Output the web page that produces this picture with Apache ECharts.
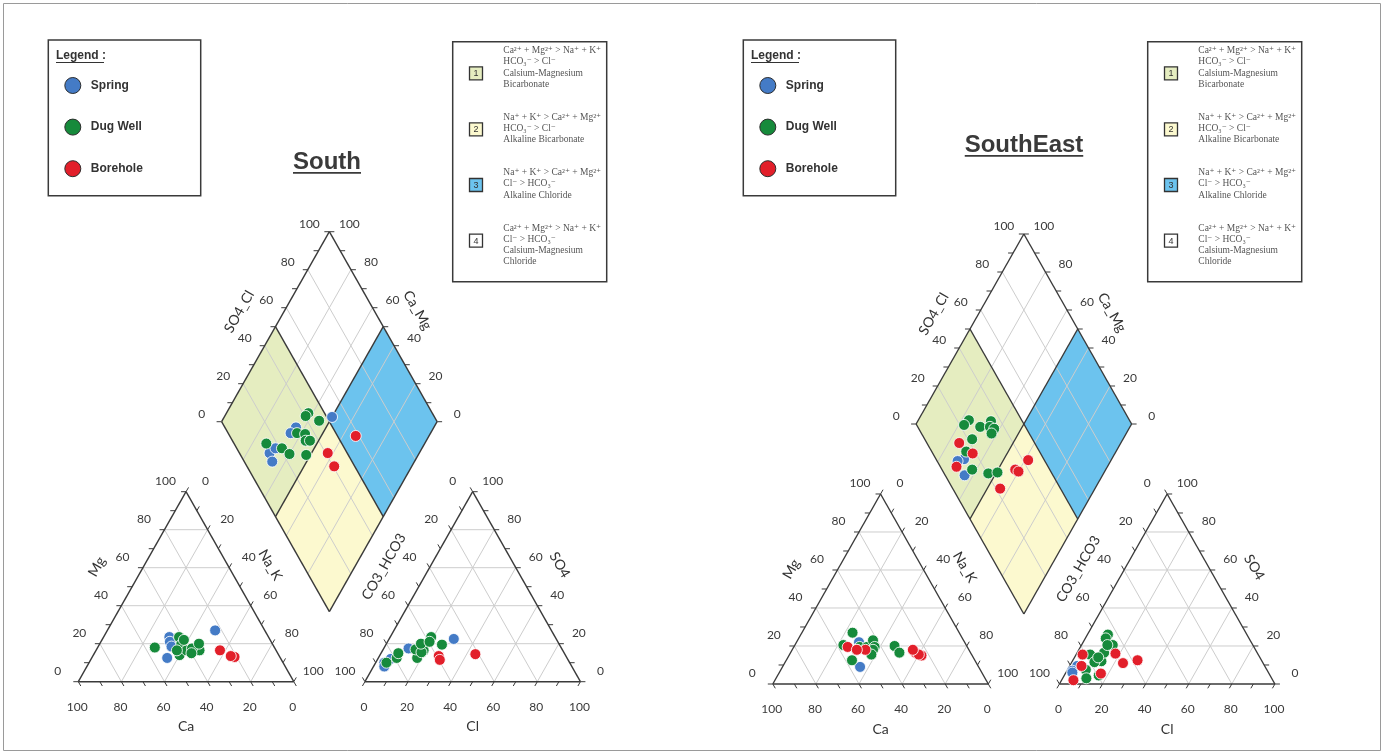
<!DOCTYPE html>
<html><head><meta charset="utf-8">
<script src="https://cdn.jsdelivr.net/npm/echarts@6/dist/echarts.min.js"></script>
<style>html,body{margin:0;padding:0;background:#fff}#c{width:1384px;height:755px}</style>
</head><body><div id="c"></div><script>
// ---------------- DATA ----------------
const SERIES_NAMES = ['Spring', 'Dug Well', 'Borehole'];
const SERIES_COLORS = ['#447bc6', '#168a3b', '#e21f2a'];
const PANEL_TITLES = ['South', 'SouthEast'];
const TICK_VALUES = [0, 20, 40, 60, 80, 100];
const AXIS_TITLES = { ca: 'Ca', mg: 'Mg', na: 'Na_K', cl: 'Cl', so4: 'SO4', hco3: 'CO3_HCO3', so4cl: 'SO4_Cl', camg: 'Ca_Mg' };
const LEGEND_HEADING = 'Legend :';
const CLASS_NUMBERS = ['1', '2', '3', '4'];
const CLASS_TEXT = [
  ['Ca\u00B2\u207A + Mg\u00B2\u207A > Na\u207A + K\u207A', 'HCO\u2083\u207B > Cl\u207B', 'Calsium-Magnesium', 'Bicarbonate'],
  ['Na\u207A + K\u207A > Ca\u00B2\u207A + Mg\u00B2\u207A', 'HCO\u2083\u207B > Cl\u207B', 'Alkaline Bicarbonate'],
  ['Na\u207A + K\u207A > Ca\u00B2\u207A + Mg\u00B2\u207A', 'Cl\u207B > HCO\u2083\u207B', 'Alkaline Chloride'],
  ['Ca\u00B2\u207A + Mg\u00B2\u207A > Na\u207A + K\u207A', 'Cl\u207B > HCO\u2083\u207B', 'Calsium-Magnesium', 'Chloride']
];

// cations: [Ca, Mg, Na+K] (% meq)   anions: [CO3+HCO3, SO4, Cl] (% meq)
const southSpringCat = [[23,27,50],[46,18,36],[52.5,12.5,35],[46,23.5,30.5],[47,21,32],[47.5,18.5,34]];
const southSpringAn  = [[47.5,22.5,30],[67,17.5,15.5],[71,17.5,11.5],[86,10,4],[82,12,6],[87,8,5]];
const southDugCat = [[55.5,18,26.5],[41.5,23.5,35],[46,14,40],[35.5,16.5,48],[42.5,19.5,38],[41.5,16.5,42],[38.5,17.5,44],[34,20,46],[40,22,38],[46,16.5,37.5],[40,15,45]];
const southDugAn  = [[85,10,5],[79,12.5,8.5],[77,15,8],[69.5,12.5,18],[68,17,15],[64.5,16.5,19],[66,15.5,18.5],[64,20,16],[57.5,23.5,19],[59.5,21,19.5],[54.5,19.5,26]];
const southBoreCat = [[21,13,66],[26,16.5,57.5],[22.5,13.5,64]];
const southBoreAn  = [[41.5,14.5,44],[59,13.5,27.5],[59.5,11.5,29]];

const seSpringCat = [[49,19.5,31.5],[49,22,29],[55,9,36]];
const seSpringAn  = [[87,9.5,3.5],[90.5,7,2.5],[91,6,3]];
const seDugCat = [[49.5,27,23.5],[57,20.5,22.5],[50,19.5,30.5],[46.5,19.5,34],[42,23,35],[43,19.5,37.5],[44.5,18,37.5],[52,18,30],[57,12.5,30.5],[46.5,15.5,38],[33.5,20,46.5],[33,16.5,50.5]];
const seDugAn  = [[74.5,12,13.5],[78,15.5,6.5],[71,16.5,12.5],[64.5,26,9.5],[66.5,24,9.5],[65,20.5,14.5],[67.5,20.5,12],[78,11.5,10.5],[84,7.5,8.5],[86,3,11],[79.5,4.5,16],[75,14,11]];
const seBoreCat = [[55.5,19.5,25],[48,18,34],[52,18,30],[23.5,15,61.5],[25.5,16.5,58],[24.5,15.5,60],[26,18,56]];
const seBoreAn  = [[85,9.5,5.5],[81.5,15.5,3],[92.5,2,5.5],[57.5,12.5,30],[66,16,18],[65,11,24],[78,5.5,16.5]];

// ---------------- GEOMETRY (Piper layout in diagram units, side = 100) ----------------
const GAP = 33, Y0 = 31.9, H = 86.6;
function cat(c) { return [c[2] + c[1] / 2, c[1] * H / 100]; }
function an(a) { return [100 + GAP + a[2] + a[1] / 2, a[1] * H / 100]; }
function dia(caMg, so4Cl) { return [100 + GAP / 2 + (so4Cl - caMg) / 2, Y0 + H * (so4Cl + caMg) / 100]; }

const SX = 2.155, SY = 2.194, XMIN = -30, XMAX = 270, YMIN = -25, YMAX = 225;
const PANELS = [
  { ox: 78.3, oy: 681.7, titleX: 327, titleY: 162, boxShift: 0,
    sets: [[southSpringCat, southSpringAn], [southDugCat, southDugAn], [southBoreCat, southBoreAn]] },
  { ox: 772.8, oy: 684, titleX: 1024, titleY: 145, boxShift: 695,
    sets: [[seSpringCat, seSpringAn], [seDugCat, seDugAn], [seBoreCat, seBoreAn]] }
];

const FONT_AX = 'Lato, "Open Sans", sans-serif';
const FONT_B = '"Liberation Sans", Arial, sans-serif';
const FONT_SERIF = '"Liberation Serif", "DejaVu Serif", serif';
const DARK = '#3a3a3a', GRIDC = '#cdcdcd';
const FILL1 = '#e5edc0', FILL2 = '#fcf9cf', FILL3 = '#6cc3ee';

function txt(x, y, s, o) {
  o = o || {};
  return { type: 'text', x: x, y: y, rotation: o.rot || 0, silent: true,
    style: { text: s, fill: o.color || '#3a3a3a', fontSize: o.size || 12, fontFamily: o.family || FONT_AX,
      fontWeight: o.weight || 'normal', align: o.align || 'center', verticalAlign: 'middle',
      textAlign: o.align || 'center', textVerticalAlign: 'middle' } };
}

function buildFrame(api) {
  const ch = [];
  const p = uv => api.coord(uv);
  const seg = (A, B, stroke, w) => ch.push({ type: 'line', silent: true, shape: { x1: A[0], y1: A[1], x2: B[0], y2: B[1] }, style: { stroke: stroke, lineWidth: w } });
  const line = (a, b, stroke, w) => seg(p(a), p(b), stroke, w);
  const poly = (pts, fill) => ch.push({ type: 'polygon', silent: true, shape: { points: pts.map(p) }, style: { fill: fill, stroke: null } });
  const tick = (uv, dx, dy) => { const A = p(uv); seg(A, [A[0] + dx, A[1] + dy], DARK, 1); };
  const lab = (uv, dx, dy, s, o) => { const A = p(uv); ch.push(txt(A[0] + dx, A[1] + dy, s, o)); };

  // quadrant fills of the diamond
  poly([dia(100, 0), dia(100, 50), dia(50, 50), dia(50, 0)], FILL1);
  poly([dia(50, 0), dia(50, 50), dia(0, 50), dia(0, 0)], FILL2);
  poly([dia(50, 50), dia(50, 100), dia(0, 100), dia(0, 50)], FILL3);

  // grid lines
  [20, 40, 60, 80].forEach(k => {
    line(cat([100 - k, k, 0]), cat([0, k, 100 - k]), GRIDC, 1);
    line(cat([k, 100 - k, 0]), cat([k, 0, 100 - k]), GRIDC, 1);
    line(cat([100 - k, 0, k]), cat([0, 100 - k, k]), GRIDC, 1);
    line(an([k, 100 - k, 0]), an([k, 0, 100 - k]), GRIDC, 1);
    line(an([100 - k, k, 0]), an([0, k, 100 - k]), GRIDC, 1);
    line(an([100 - k, 0, k]), an([0, 100 - k, k]), GRIDC, 1);
    line(dia(k, 0), dia(k, 100), GRIDC, 1);
    line(dia(0, k), dia(100, k), GRIDC, 1);
  });

  // outlines
  const W = 1.4;
  line(cat([100, 0, 0]), cat([0, 0, 100]), DARK, W);
  line(cat([0, 0, 100]), cat([0, 100, 0]), DARK, W);
  line(cat([0, 100, 0]), cat([100, 0, 0]), DARK, W);
  line(an([100, 0, 0]), an([0, 0, 100]), DARK, W);
  line(an([0, 0, 100]), an([0, 100, 0]), DARK, W);
  line(an([0, 100, 0]), an([100, 0, 0]), DARK, W);
  line(dia(0, 0), dia(100, 0), DARK, W);
  line(dia(100, 0), dia(100, 100), DARK, W);
  line(dia(100, 100), dia(0, 100), DARK, W);
  line(dia(0, 100), dia(0, 0), DARK, W);
  line(dia(50, 0), dia(50, 100), DARK, W);
  line(dia(0, 50), dia(100, 50), DARK, W);

  // ticks every 10
  for (let t = 0; t <= 100; t += 10) {
    tick(cat([t, 0, 100 - t]), 2.5, 4.3);
    tick(cat([100 - t, t, 0]), -5, 0);
    tick(cat([0, 100 - t, t]), 2.5, -4.3);
    tick(an([100 - t, 0, t]), -2.5, 4.3);
    tick(an([t, 100 - t, 0]), -2.5, -4.3);
    tick(an([0, t, 100 - t]), 5, 0);
    tick(dia(100, t), -5, 0);
    tick(dia(t, 100), 5, 0);
  }

  // tick labels
  TICK_VALUES.forEach(t => {
    const s = String(t);
    lab(cat([t, 0, 100 - t]), -1, 25.5, s);
    lab(cat([100 - t, t, 0]), -20.5, -11, s);
    lab(cat([0, 100 - t, t]), 19.5, -11, s);
    lab(an([100 - t, 0, t]), -1, 25.5, s);
    lab(an([t, 100 - t, 0]), -20, -11, s);
    lab(an([0, t, 100 - t]), 20, -11, s);
    lab(dia(100, t), -20, -8, s);
    lab(dia(t, 100), 20, -8, s);
  });

  // axis titles
  const tO = { size: 14, color: '#333' };
  lab(cat([50, 0, 50]), 0, 45, AXIS_TITLES.ca, tO);
  lab(cat([40, 60, 0]), -46, -1, AXIS_TITLES.mg, Object.assign({ rot: Math.PI / 3 }, tO));
  lab(cat([0, 60, 40]), 41, -2.7, AXIS_TITLES.na, Object.assign({ rot: -Math.PI / 3 }, tO));
  lab(an([50, 0, 50]), 0, 45, AXIS_TITLES.cl, tO);
  lab(an([40, 60, 0]), -45.6, -1, AXIS_TITLES.hco3, Object.assign({ rot: Math.PI / 3 }, tO));
  lab(an([0, 60, 40]), 44, -2.7, AXIS_TITLES.so4, Object.assign({ rot: -Math.PI / 3 }, tO));
  lab(dia(100, 60), -47, 4, AXIS_TITLES.so4cl, Object.assign({ rot: Math.PI / 3 }, tO));
  lab(dia(60, 100), 45, 2.5, AXIS_TITLES.camg, Object.assign({ rot: -Math.PI / 3 }, tO));
  return ch;
}

function pointsFor(cats, ans) {
  const out = [];
  cats.forEach(c => out.push(cat(c)));
  ans.forEach(a => out.push(an(a)));
  cats.forEach((c, i) => out.push(dia(c[0] + c[1], ans[i][1] + ans[i][2])));
  return out;
}

// ---------------- OPTION ----------------
const grids = [], xAxes = [], yAxes = [], series = [], legends = [], graphics = [];
const DRAW_ORDER = [1, 0, 2];
PANELS.forEach((P, pi) => {
  grids.push({ left: P.ox + XMIN * SX, top: P.oy - YMAX * SY, width: (XMAX - XMIN) * SX, height: (YMAX - YMIN) * SY });
  xAxes.push({ gridIndex: pi, type: 'value', min: XMIN, max: XMAX, show: false });
  yAxes.push({ gridIndex: pi, type: 'value', min: YMIN, max: YMAX, show: false });
  series.push({ type: 'custom', xAxisIndex: pi, yAxisIndex: pi, data: [[0, 0]], silent: true, z: 1,
    renderItem: (params, api) => ({ type: 'group', children: buildFrame(api) }) });
  DRAW_ORDER.forEach(si => {
    series.push({ type: 'scatter', name: SERIES_NAMES[si], xAxisIndex: pi, yAxisIndex: pi, z: 3 + si,
      symbolSize: 11, data: pointsFor(P.sets[si][0], P.sets[si][1]),
      itemStyle: { color: SERIES_COLORS[si], borderColor: 'rgba(255,255,255,0.85)', borderWidth: 1, opacity: 1 } });
  });

  const bx = P.boxShift;
  // legend box
  legends.push({ left: 64.3 + bx, top: 77, orient: 'vertical', padding: 0, itemWidth: 16, itemHeight: 16, itemGap: 24.6,
    icon: 'circle', selectedMode: false, data: SERIES_NAMES,
    itemStyle: { borderColor: '#2d2d2d', borderWidth: 1 },
    textStyle: { fontFamily: FONT_B, fontWeight: 'bold', fontSize: 12, color: '#333', padding: [0, 0, 0, 5] } });
  graphics.push({ type: 'rect', shape: { x: 48.3 + bx, y: 40, width: 152.4, height: 155.7 }, style: { fill: 'none', stroke: DARK, lineWidth: 1.5 }, z: 0 });
  graphics.push(txt(56 + bx, 56, LEGEND_HEADING, { family: FONT_B, weight: 'bold', size: 12, color: '#333', align: 'left' }));
  graphics.push({ type: 'line', shape: { x1: 56 + bx, y1: 62.5, x2: 104 + bx, y2: 62.5 }, style: { stroke: '#333', lineWidth: 1 } });

  // class box
  graphics.push({ type: 'rect', shape: { x: 452.7 + bx, y: 41.7, width: 154, height: 240 }, style: { fill: 'none', stroke: DARK, lineWidth: 1.5 } });
  const entryTop = [50.7, 117.3, 172.7, 228.3];
  const squareY = [73.3, 129.3, 185, 240.7];
  const squareFill = [FILL1, FILL2, FILL3, '#ffffff'];
  CLASS_NUMBERS.forEach((n, k) => {
    graphics.push({ type: 'rect', shape: { x: 469.5 + bx, y: squareY[k] - 6.5, width: 13, height: 13 }, style: { fill: squareFill[k], stroke: '#333', lineWidth: 1.3 } });
    graphics.push(txt(476 + bx, squareY[k] + 0.5, n, { family: FONT_B, size: 9, color: '#333' }));
    CLASS_TEXT[k].forEach((line, j) => {
      graphics.push(txt(503.3 + bx, entryTop[k] + j * 11.2, line, { family: FONT_SERIF, size: 9.5, color: '#555', align: 'left' }));
    });
  });

  // title
  graphics.push(txt(P.titleX, P.titleY, PANEL_TITLES[pi], { family: FONT_B, weight: 'bold', size: 24, color: '#3a3a3a' }));
  const tw = PANEL_TITLES[pi] === 'South' ? 68 : 118.5;
  graphics.push({ type: 'rect', shape: { x: P.titleX - tw / 2, y: P.titleY + 10, width: tw, height: 1.8 }, style: { fill: '#3a3a3a' } });
});

// outer frame
graphics.push({ type: 'rect', shape: { x: 3.5, y: 3.5, width: 1377, height: 747 }, style: { fill: 'none', stroke: '#9a9a9a', lineWidth: 1 } });

const chart = echarts.init(document.getElementById('c'));
chart.setOption({
  animation: false,
  backgroundColor: '#ffffff',
  grid: grids, xAxis: xAxes, yAxis: yAxes,
  legend: legends,
  graphic: { elements: graphics },
  series: series
});
</script></body></html>
